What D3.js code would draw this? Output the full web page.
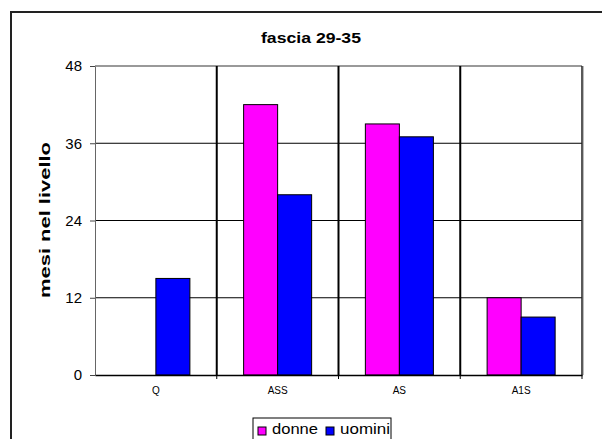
<!DOCTYPE html>
<html>
<head>
<meta charset="utf-8">
<script src="https://cdn.jsdelivr.net/npm/d3@7"></script>
<style>
  body { margin: 0; background: #fff; }
  svg { display: block; }
</style>
</head>
<body>
<svg id="chart" width="602" height="439"></svg>
<script>
const categories = ['Q', 'ASS', 'AS', 'A1S'];
const series = ['donne', 'uomini'];
const donne = [0, 42, 39, 12];
const uomini = [15, 28, 37, 9];
const yTicks = [0, 12, 24, 36, 48];
const colors = { donne: '#FF00FF', uomini: '#0000FF' };

const svg = d3.select('#chart');
const margin = { top: 66, left: 95 };
const plotRight = 582;
const plotBottom = 375;
const font = "'Liberation Sans', Arial, sans-serif";

// cornice esterna
svg.append('rect')
    .attr('x', 11).attr('y', 12)
    .attr('width', 620).attr('height', 460)
    .attr('fill', 'white')
    .attr('stroke', '#222').attr('stroke-width', 2);

const x = d3.scaleBand()
    .domain(categories)
    .range([margin.left, plotRight])
    .paddingInner(0).paddingOuter(0);

const xs = d3.scaleBand()
    .domain(series)
    .range([0, x.bandwidth()])
    .paddingInner(0).paddingOuter(0.79);

const y = d3.scaleLinear()
    .domain([0, 48])
    .range([plotBottom, margin.top]);

// griglia orizzontale
svg.append('g')
    .selectAll('line')
    .data(yTicks.filter(d => d > 0 && d < 48))
    .enter().append('line')
    .attr('x1', margin.left).attr('x2', plotRight)
    .attr('y1', d => y(d)).attr('y2', d => y(d))
    .attr('stroke', '#000').attr('stroke-width', 1);

// bordo superiore e destro
svg.append('line')
    .attr('x1', margin.left).attr('x2', plotRight)
    .attr('y1', y(48)).attr('y2', y(48))
    .attr('stroke', '#777').attr('stroke-width', 1.5);
svg.append('line')
    .attr('x1', plotRight).attr('x2', plotRight)
    .attr('y1', y(48)).attr('y2', y(0))
    .attr('stroke', '#222').attr('stroke-width', 1.5);
svg.append('line')
    .attr('x1', plotRight + 1.5).attr('x2', plotRight + 1.5)
    .attr('y1', y(48)).attr('y2', y(0))
    .attr('stroke', '#bbb').attr('stroke-width', 1);

// separatori verticali
svg.append('g')
    .selectAll('line')
    .data(categories.slice(1))
    .enter().append('line')
    .attr('x1', d => x(d)).attr('x2', d => x(d))
    .attr('y1', y(48)).attr('y2', y(0))
    .attr('stroke', '#000').attr('stroke-width', 2);

// barre
const rows = categories.map((c, i) => ({ cat: c, donne: donne[i], uomini: uomini[i] }));
svg.append('g')
    .selectAll('g')
    .data(rows)
    .enter().append('g')
    .attr('transform', d => `translate(${x(d.cat)},0)`)
    .selectAll('rect')
    .data(d => series.map(s => ({ key: s, value: d[s] })).filter(d => d.value > 0))
    .enter().append('rect')
    .attr('x', d => xs(d.key))
    .attr('y', d => y(d.value))
    .attr('width', xs.bandwidth())
    .attr('height', d => y(0) - y(d.value))
    .attr('fill', d => colors[d.key])
    .attr('stroke', '#000').attr('stroke-width', 1);

// asse Y
const yAxis = svg.append('g')
    .attr('transform', `translate(${margin.left},0)`)
    .call(d3.axisLeft(y).tickValues(yTicks).tickSize(5).tickSizeOuter(0).tickPadding(8));
yAxis.select('.domain').attr('stroke', '#666');
yAxis.selectAll('.tick line').attr('stroke', '#444');
yAxis.selectAll('text')
    .attr('font-family', font).attr('font-size', '15px').attr('fill', '#000');

// asse X
const xAxis = svg.append('g')
    .attr('transform', `translate(0,${y(0)})`)
    .call(d3.axisBottom(x).tickSize(0).tickSizeOuter(0).tickPadding(12));
xAxis.select('.domain').attr('stroke', '#000').attr('stroke-width', 1.5);
xAxis.selectAll('text')
    .attr('font-family', font).attr('font-size', '10px').attr('fill', '#000');
svg.append('g')
    .selectAll('line')
    .data(categories.slice(1).concat(['__end']))
    .enter().append('line')
    .attr('x1', d => d === '__end' ? plotRight : x(d))
    .attr('x2', d => d === '__end' ? plotRight : x(d))
    .attr('y1', y(0)).attr('y2', y(0) + 4)
    .attr('stroke', '#000');

// titolo
svg.append('text')
    .attr('x', 261).attr('y', 43)
    .attr('textLength', 100).attr('lengthAdjust', 'spacingAndGlyphs')
    .attr('font-family', font).attr('font-size', '15px').attr('font-weight', 'bold')
    .text('fascia 29-35');

// titolo asse Y
svg.append('text')
    .attr('transform', 'rotate(-90)')
    .attr('x', -298)
    .attr('y', 50)
    .attr('textLength', 156).attr('lengthAdjust', 'spacingAndGlyphs')
    .attr('font-family', font).attr('font-size', '15px').attr('font-weight', 'bold')
    .text('mesi nel livello');

// legenda
const leg = svg.append('g').attr('transform', 'translate(253,418)');
leg.append('rect')
    .attr('x', 0).attr('y', 0).attr('width', 138).attr('height', 30)
    .attr('fill', 'white').attr('stroke', '#000').attr('stroke-width', 1);
const legItems = leg.selectAll('g')
    .data(series)
    .enter().append('g')
    .attr('transform', (d, i) => `translate(${i === 0 ? 5 : 73},0)`);
legItems.append('rect')
    .attr('x', 0).attr('y', 9).attr('width', 8).attr('height', 8)
    .attr('fill', d => colors[d]).attr('stroke', '#000');
legItems.append('text')
    .attr('x', 14).attr('y', 16)
    .attr('textLength', d => d === 'donne' ? 46 : 50).attr('lengthAdjust', 'spacingAndGlyphs')
    .attr('font-family', font).attr('font-size', '14px')
    .text(d => d);
</script>
</body>
</html>
